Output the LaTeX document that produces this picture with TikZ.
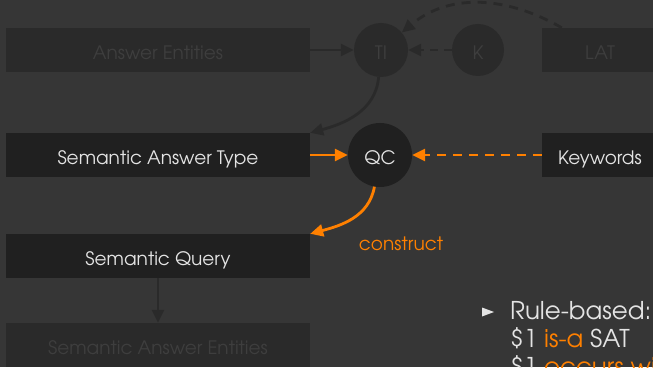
\documentclass[tikz,border=0pt]{standalone}
\usepackage{fontspec}
\setmainfont{TeX Gyre Adventor}
\usetikzlibrary{arrows.meta}
\definecolor{bg}{RGB}{54,54,54}
\definecolor{boxon}{RGB}{32,32,32}
\definecolor{boxoff}{RGB}{42,42,42}
\definecolor{txton}{RGB}{228,228,228}
\definecolor{txtoff}{RGB}{62,62,62}
\definecolor{accent}{RGB}{255,128,0}
\tikzset{
  x=1pt, y=1pt,
  label font/.style={font=\fontsize{18.5}{22}\selectfont, text height=18.5pt, text depth=0pt},
  box/.style={rectangle, minimum height=44pt, inner sep=0pt, label font},
  wide/.style={box, minimum width=304pt},
  narrow/.style={box, minimum width=116pt},
  on/.style={fill=boxon, text=txton},
  off/.style={fill=boxoff, text=txtoff},
  round/.style={circle, inner sep=0pt, label font},
  tip/.style={-{Triangle[length=13pt,width=12pt]}},
  link/.style={tip, line width=2.8pt},
  dashlink/.style={link, dash pattern=on 9pt off 7pt},
  bullet text/.style={anchor=base west, inner sep=0pt, text=txton, font=\fontsize{24.5}{28}\selectfont},
}
\begin{document}
\begin{tikzpicture}
\fill[bg] (0,0) rectangle (653,367);
\useasboundingbox (0,0) rectangle (653,367);
\clip (0,0) rectangle (653,367);

% faded upper row
\node[wide, off] (ae) at (158,317) {Answer Entities};
\node[round, off, minimum size=54pt] (ti) at (381,317) {TI};
\node[round, off, minimum size=52pt] (k) at (478,317) {K};
\node[narrow, off] (lat) at (600,317) {LAT};

% active middle row
\node[wide, on] (sat) at (158,212) {Semantic Answer Type};
\node[round, on, minimum size=64pt] (qc) at (380,212) {QC};
\node[narrow, on] (kw) at (600,212) {Keywords};

% lower boxes
\node[wide, on] (sq) at (158,111) {Semantic Query};
\node[wide, off] (sae) at (158,22) {Semantic Answer Entities};

% faded connectors
\draw[link, boxoff] (ae) -- (ti);
\draw[dashlink, boxoff, dash pattern=on 8pt off 6pt] (k) -- (ti);
\draw[dashlink, boxoff] ([xshift=20pt]lat.north west) to[out=150, in=40] (ti.40);
\draw[link, boxoff] (ti.-95) to[out=-95, in=15] (sat.north east);
\draw[link, boxoff] (sq) -- (sae);

% active connectors
\draw[link, accent] (sat) -- (qc);
\draw[dashlink, accent] (kw) -- (qc);
\draw[link, accent] (qc.-100) to[out=-100, in=15] (sq.north east);
\node[text=accent, font=\fontsize{18.5}{22}\selectfont] (cons) at (401,123) {construct};

% bullet list
\fill[txton] (482,59.5) -- (494,55) -- (482,50.5) -- cycle;
\node[bullet text] (r1) at (510,48) {Rule-based:};
\node[bullet text] (r2) at (510,20) {\$1 \textcolor{accent}{is-a} SAT};
\node[bullet text] (r3) at (510,-8) {\$1 \textcolor{accent}{occurs with}};
\end{tikzpicture}
\end{document}
